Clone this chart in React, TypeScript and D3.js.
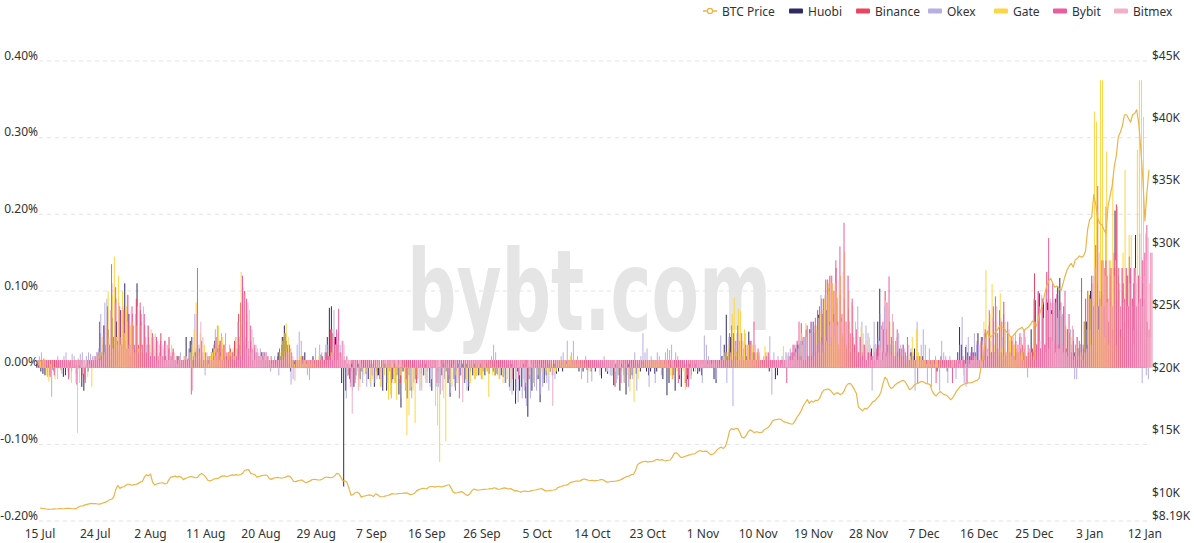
import React from 'react';
import * as d3 from 'd3';

// ---------- DATA ----------
// x-axis tick labels (one every 27 funding periods = 9 days)
const tickLabels = ['15 Jul','24 Jul','2 Aug','11 Aug','20 Aug','29 Aug','7 Sep','16 Sep','26 Sep','5 Oct','14 Oct','23 Oct','1 Nov','10 Nov','19 Nov','28 Nov','7 Dec','16 Dec','25 Dec','3 Jan','12 Jan'];
const tickEvery = 27;
const leftTicks = [400, 300, 200, 100, 0, -100, -200]; // funding rate, 0.001% units
const rightTicks = [45000, 40000, 35000, 30000, 25000, 20000, 15000, 10000, 8190];

// Funding rates per 8h period, in units of 0.001 %
const huobi = [
5,3,-5, -8,-10,2, 3,5,-3, 4,6,5, -3,-12,-10, 5,8,-5, 6,3,-2, 3,-25,-30, 4,-5,8,
5,8,10, 20,45,15, 55,25,50, 10,65,30, 60,20,75, 40,110,25, 70,15,55, 30,110,20, 60,15,40,
30,10,20, 15,5,10, 20,8,15, 15,5,5, 8,10,5, 15,5,10, 10,40,12, 35,10,20, 25,8,10,
5,10,8, 10,15,25, 35,10,30, 20,5,15, 15,20,10, 20,8,25, 30,10,35, 25,5,15, 15,20,10,
10,15,20, 20,10,5, 5,8,10, 10,20,15, 40,55,35, 5,-5,10, 8,10,5, 10,15,20, 8,10,5,
15,5,10, 10,17,5, 20,40,78, 80,20,40, 30,10,-20, -155,-30,-10, -15,5,-25, -10,5,-15, -5,10,-8,
-15,5,-10, -25,-5,-10, -5,-30,5, -30,-5,-20, -15,5,-10, -35,-52,-5, 5,-40,-10, -30,5,-15, -10,5,-8,
-10,5,-5, -20,-30,5, -25,-5,-20, -10,5,-5, -20,-38,5, -15,-5,5, -10,5,-20, 5,-30,-5, -10,5,-10,
-10,5,-5, -10,5,-8, 5,-5,-10, -8,5,-10, -12,-20,5, -25,5,-30, -47,-5,-30, -25,5,-40, -64,-5,-30,
-20,5,-15, -45,5,-20, -10,5,-5, -10,5,-8, -5,5,-5, 5,8,5, 10,5,8, 5,-5,5, -5,5,-3,
5,-5,3, -5,5,5, -14,5,-5, -8,5,-10, -23,5,-10, -30,5,-10, -35,5,-15, -10,5,-8, 5,-5,8,
5,-5,-10, -5,5,-8, -5,8,5, -15,5,-36, -20,5,-10, -30,5,-15, -25,5,-20, -15,5,-10, -5,5,-8,
-5,-10,5, 5,8,10, 10,-15,-20, 5,10,15, 30,69,20, 40,10,25, 20,5,15, 10,45,15, 47,10,20,
5,10,5, 8,5,10, 5,-5,10, 10,-15,-10, 5,10,5, 10,5,10, 15,5,25, 30,10,35, 10,49,15,
50,10,45, 20,69,15, 70,20,75, 104,30,80, 25,91,20, 55,15,45, 10,35,20, 25,10,15, 20,10,30,
15,20,10, 25,10,30, 60,103,20, 50,15,30, 20,15,10, 35,10,20, 15,10,5, 10,20,15, 25,15,10,
10,15,5, 10,5,8, 5,10,-5, 10,15,8, 5,-5,10, 8,10,5, 20,53,30, 10,27,20, 15,27,20,
20,45,10, 40,15,30, 25,10,20, 20,25,15, 20,10,25, 15,20,10, 10,15,20, 15,10,20, 15,10,5,
50,20,88, 30,97,25, 90,30,85, 20,75,30, 90,106,117, 30,80,25, 50,15,30, 20,15,25, 30,15,60,
60,20,100, 30,85,20, 80,25,95, 30,120,25, 90,20,205, 30,100,25, 110,30,120, 145,30,110, 173,30,175,
140,30,60
];

const binance = [
10,10,10, 10,10,10, 10,10,10, 10,10,10, 10,10,10, 10,10,10, 10,10,10, 10,-10,-20, 10,10,10,
10,10,15, 60,20,55, 30,75,20, 110,40,90, 25,70,30, 75,20,60, 15,70,25, 90,30,75, 20,55,15,
40,15,35, 10,35,15, 45,12,35, 10,40,15, 25,10,15, 15,10,10, 10,10,25, 40,15,20, 25,10,15,
10,10,15, 15,20,30, 40,15,35, 25,10,15, 20,25,10, 35,15,70, 85,20,100, 60,15,35, 25,10,15,
15,20,15, 10,15,10, 10,10,10, 15,25,30, 40,45,30, 15,10,10, 10,10,10, 15,10,10, 10,10,10,
10,10,10, 10,15,10, 20,10,50, 45,15,30, 20,15,10, 10,5,-10, 10,10,10, 10,-10,10, 10,10,10,
10,10,10, 10,10,-15, 10,10,5, 10,10,10, 10,-5,10, -20,10,10, 10,10,10, 10,10,-20, 10,10,10,
10,10,10, 10,10,10, 10,-15,10, 10,10,10, 10,10,10, -30,10,10, 10,10,-15, 10,10,10, 10,10,10,
10,10,10, 10,10,10, 10,10,10, 10,10,10, 10,10,10, 10,-15,10, 10,10,10, 10,10,10, -15,10,10,
10,10,10, 10,10,10, 10,10,10, 10,10,10, 10,10,10, 10,10,10, 10,10,10, 10,10,10, 10,10,10,
10,10,10, 10,10,10, 10,10,10, 10,10,10, -25,10,10, 10,10,10, 10,10,10, 10,10,10, 10,10,10,
10,10,10, 10,10,10, 10,10,10, 10,10,10, 10,-15,10, 10,10,10, 10,10,-25, 10,10,10, 10,10,10,
10,10,10, 10,10,10, 10,10,10, 10,15,10, 20,10,45, 55,15,35, 10,35,10, 25,10,30, 35,10,20,
10,10,10, 10,10,10, 10,10,10, 10,10,10, 10,10,10, 10,15,20, 30,10,35, 15,58,10, 40,15,50,
15,60,20, 75,25,90, 30,115,40, 120,35,100, 130,30,95, 40,90,25, 77,20,45, 30,10,20, 15,20,15,
10,15,10, 15,20,25, 15,55,20, 100,20,60, 40,15,20, 20,25,15, 15,10,10, 10,15,10, 10,15,10,
10,10,10, 10,10,10, 10,10,10, 10,10,10, 10,10,10, 10,10,10, 10,10,15, 10,15,10, 10,10,10,
35,10,40, 20,45,15, 60,20,60, 15,45,20, 60,86,20, 45,15,35, 30,10,20, 25,30,10, 15,20,10,
25,123,30, 90,25,80, 30,125,40, 85,25,75, 30,70,25, 70,20,50, 45,15,35, 30,10,20, 117,30,90,
100,50,110, 60,120,50, 100,55,130, 210,60,120, 50,130,213, 120,50,100, 60,120,50, 120,60,100, 50,120,60,
110,30,60
];

const okex = [
15,20,12, 8,-12,-10, -38,-5,10, 15,8,-8, 15,20,-5, 10,18,15, -8,12,18, 20,10,15, 20,18,15,
15,20,25, 70,30,85, 90,40,75, 25,85,40, 80,30,70, 35,95,30, 60,20,55, 80,35,70, 25,40,15,
30,10,25, 20,5,15, 15,30,8, 20,10,10, 10,15,5, 20,10,15, 10,25,20, 40,70,15, 30,10,20,
-10,10,15, 20,10,50, 55,20,45, 30,45,10, 30,10,20, 40,60,15, 55,20,40, 35,10,20, 25,20,15,
25,20,15, 20,10,-5, 10,15,5, -10,10,15, 20,25,15, -22,-15,10, 30,47,35, 15,10,-10, -16,5,10,
26,10,30, 20,5,30, 30,10,50, 75,20,45, 30,10,15, -40,5,-20, -30,10,-10, -15,5,-20, 10,-25,5,
-25,5,-20, -15,10,-25, -30,5,-20, -5,-40,10, -20,5,-15, -40,10,-30, 5,-30,-40, -20,10,-15, -30,5,-10,
-20,5,-25, -30,10,-15, -25,-35,5, -15,10,-10, -33,5,-25, -20,10,-10, 5,-20,-30, -25,5,-10, -15,10,-8,
-15,5,-10, -5,10,15, 30,20,-10, -15,5,-10, -20,5,-30, -35,5,-30, -45,5,-40, -30,-50,5, -40,5,-25,
-30,5,-35, -25,5,-20, -30,5,-10, -15,5,5, 15,20,10, 35,10,20, 35,5,15, 10,-15,10, 15,-20,10,
-18,5,10, 5,-10,10, 15,-5,10, -10,5,5, -20,5,-15, 5,-20,5, -25,5,-15, 20,-30,5, 15,45,20,
25,-25,15, 10,-20,20, 15,-10,5, 20,25,23, 30,5,20, 15,10,5, 10,5,-10, -15,5,5, 10,-5,8,
-20,42,30, 15,10,5, 10,-15,5, 42,15,20, -20,40,10, -50,30,45, 15,35,10, 30,10,15, 35,10,20,
20,15,10, 15,20,10, 41,-35,20, 10,15,5, 15,10,20, 20,25,15, 20,30,10, 35,10,40, 50,15,60,
60,15,50, 20,95,30, 95,30,100, 40,90,35, 85,25,65, 60,20,50, 60,15,40, 50,80,20, 60,15,55,
45,30,-30, 60,20,40, 70,20,80, 50,15,30, 35,10,25, 45,15,30, 20,15,10, 25,20,-30, 60,15,30,
50,30,-20, 25,-25,10, 15,10,-30, 35,20,15, -20,15,10, 10,-15,20, 30,66,-20, 30,40,20, 20,45,30,
30,10,35, 45,15,30, 35,40,10, 40,15,35, 40,50,15, 35,10,20, 45,15,40, 40,10,30, -13,20,15,
90,30,100, 35,90,30, 95,35,90, 30,85,25, 75,25,70, 60,20,45, 50,15,-15, -15,25,20, 30,15,50,
90,50,120, 60,110,50, 100,140,55, 110,60,130, 50,110,60, 110,55,90, 60,120,50, 90,50,110, 60,90,-20,
90,-10,-15
];

const gate = [
8,10,12, -10,-18,5, 8,-15,5, 10,-5,8, 8,10,-12, -20,10,8, -85,-20,5, -8,10,-12, 5,-25,15,
10,15,20, 40,15,55, 100,30,95, 145,40,120, 30,100,45, 80,25,55, 60,20,55, 25,55,30, 55,15,30,
50,15,45, 20,30,10, 25,10,30, 10,30,15, 10,5,15, 10,15,10, 10,20,30, 50,85,20, 45,10,30,
10,5,15, 20,25,10, 55,15,40, 30,10,20, 20,25,15, 40,10,125, 105,25,70, 75,15,40, 20,25,15,
15,20,10, 15,10,5, 10,5,10, 20,35,45, 58,40,25, 10,5,10, 10,15,5, 10,5,10, 5,10,5,
10,15,10, 10,5,10, 15,20,25, 30,10,20, 15,10,5, -10,5,-5, 5,-15,-5, -25,5,-10, -5,10,-20,
-15,5,-10, 5,-25,5, -10,5,-42, -35,5,-20, -42,5,-10, 5,-20,-88, -62,5,-30, -72,-10,5, -25,5,-15,
-20,5,-15, 5,-50,-75, -123,5,-40, -96,5,-20, -25,5,-10, -20,5,-15, 5,-15,5, -20,5,-15, -10,5,-10,
-15,5,-5, -38,5,-10, -10,5,-15, 5,-20,5, -15,5,-20, 5,-15,5, -10,5,-15, -20,5,-10, 5,-20,5,
-10,5,-5, 5,-5,-10, -5,5,-5, -5,5,10, 5,10,5, 10,15,5, 10,5,10, 5,10,5, 5,-5,10,
10,5,8, 5,10,5, 5,-5,10, -10,5,-5, -15,5,-5, -20,5,-10, -31,5,-45, 5,-15,5, 5,10,5,
5,10,5, 10,5,10, 5,10,5, 10,5,-10, -15,5,-5, -10,5,-5, -29,5,-10, -15,5,-5, 5,10,5,
5,10,5, 10,5,10, 5,10,5, 10,15,20, 30,15,70, 91,20,77, 74,15,50, 10,30,10, 30,10,20,
15,10,5, 28,20,15, 10,5,10, 5,10,5, 28,20,15, 10,15,10, 20,10,30, 45,10,58, 15,45,10,
15,55,20, 70,20,90, 35,110,30, 110,40,100, 30,120,45, 151,30,100, 40,80,20, 36,15,53, 45,15,35,
40,10,30, 30,10,35, 50,20,88, 20,60,15, 30,20,15, 10,15,10, 5,10,15, 40,10,50, 20,15,10,
10,5,10, 5,10,5, 10,5,10, 5,10,5, 10,5,10, 5,10,5, 10,-10,5, -20,5,10, 10,15,10,
30,10,60, 127,20,70, 109,30,60, 20,97,25, 60,15,45, 40,10,30, 25,20,15, 20,25,15, 20,15,10,
60,20,80, 25,65,20, 75,25,70, 84,20,65, 25,67,20, 55,15,45, 40,10,30, 25,20,15, 60,20,100,
90,40,334, 321,50,375, 375,40,282, 30,140,247, 120,30,130, 40,150,258, 50,173,173, 30,130,284, 375,375,327,
175,40,110
];

const bybit = [
10,10,10, 10,-12,10, -10,10,10, 10,10,10, 10,-15,10, 10,10,-22, 10,10,10, -15,10,10, 10,10,15,
10,12,15, 45,20,80, 30,135,40, 105,35,80, 30,75,25, 95,30,80, 25,70,20, 85,30,70, 20,55,15,
45,15,40, 10,35,15, 35,10,25, 15,20,10, 15,10,10, 10,10,10, 10,-35,10, 20,130,25, 35,10,20,
10,10,10, 15,20,25, 35,10,30, 20,10,15, 20,10,15, 40,15,120, 30,90,25, 55,10,30, 20,15,10,
15,20,15, 10,15,10, 10,10,10, 10,15,20, 25,30,20, 10,10,10, 10,10,10, 10,10,10, 10,10,10,
10,10,10, 10,10,15, 15,10,40, 50,77,20, 35,10,15, 10,-25,10, -20,10,10, 10,10,10, 10,10,10,
10,10,-10, 10,10,10, 10,10,10, -20,10,10, 10,10,10, 10,-15,10, 10,10,10, 10,10,10, 10,10,10,
10,10,10, 10,-20,10, 10,10,10, 10,-15,10, 10,10,10, -40,10,10, 10,10,10, 10,10,10, 10,10,10,
10,10,10, 10,10,10, 10,10,10, 10,10,10, 10,10,10, 10,10,-15, 10,10,10, 10,10,10, 10,10,10,
10,10,10, 10,10,10, 10,10,10, 10,10,10, 10,10,10, 10,10,10, 10,10,10, 10,10,10, 10,10,10,
10,10,10, 10,10,10, 10,10,10, 10,10,10, 10,-20,10, 10,10,10, 10,10,10, 10,10,10, 10,10,10,
10,10,10, 10,10,10, 10,10,10, 10,10,10, 10,10,-20, 10,10,10, 10,-25,10, 10,10,10, 10,10,10,
10,10,10, 10,10,10, 10,10,10, 10,10,15, 25,10,45, 15,55,10, 45,10,30, 10,35,10, 60,10,25,
10,10,10, 15,20,10, 10,10,10, 10,10,10, 10,-20,10, 15,20,30, 10,60,15, 40,10,55, 15,60,20,
65,30,80, 40,90,35, 115,60,120, 70,140,60, 158,70,189, 60,120,45, 90,30,50, 15,40,15, 30,10,20,
20,15,10, 20,30,10, 60,20,85, 119,20,60, 15,50,10, 25,30,20, 40,10,20, 15,10,-20, 15,10,10,
10,10,10, 10,10,-20, 10,10,10, 10,10,10, 10,-20,10, 10,10,10, 10,10,-20, 10,15,20, 15,10,10,
34,10,50, 15,75,20, 80,93,25, 75,20,70, 15,60,20, 40,15,35, 30,45,10, 50,15,30, 20,15,10,
30,100,25, 90,30,90, 169,40,110, 35,96,30, 85,30,100, 25,70,20, 50,15,40, 35,10,25, 85,30,95,
120,80,160, 237,90,140, 80,140,90, 130,80,150, 90,130,80, 130,90,130, 80,130,90, 130,80,120, 90,140,150,
186,50,150
];

const bitmex = [
10,10,10, 10,10,10, 10,-15,10, 10,10,10, 10,10,10, 10,-20,10, 10,10,10, 10,10,10, 10,15,20,
10,10,15, 20,55,30, 75,25,85, 30,85,40, 80,25,60, 30,75,25, 60,20,55, 25,80,30, 55,20,40,
40,10,35, 15,30,10, 30,10,20, 10,20,15, 10,10,10, 10,15,10, 10,-30,15, 70,20,60, 40,10,20,
10,10,10, 15,20,10, 35,10,30, 20,10,15, 15,20,10, 40,10,95, 25,85,20, 50,10,30, 20,15,10,
15,20,15, 10,10,10, 10,10,10, 10,15,20, 20,25,15, -17,10,10, 10,10,10, 10,10,10, 10,10,10,
10,10,10, 10,10,10, 15,10,30, 35,15,35, 30,10,10, 10,-60,10, 10,-30,10, 10,10,10, 10,10,-10,
10,10,10, -15,10,10, 10,10,10, 10,10,10, 10,-10,10, 10,10,10, -25,10,10, 10,10,-30, 10,10,10,
10,10,10, -20,10,10, -30,10,10, 10,10,10, 10,10,-15, 10,-45,10, 10,10,10, 10,10,10, 10,10,10,
10,10,10, 10,10,10, 10,10,10, 10,10,10, 10,10,10, 10,10,10, 10,10,-25, 10,10,10, 10,10,10,
10,10,10, 10,10,10, -50,10,10, 10,10,10, 10,10,10, 10,10,10, 10,10,10, 10,10,10, 10,10,10,
10,10,10, 10,10,10, 10,10,10, 10,10,10, 10,10,10, 10,-15,10, 10,10,10, 10,10,10, 10,10,10,
10,10,10, 10,10,10, 10,10,10, 10,10,10, 10,10,10, 10,10,-15, 10,10,10, 10,10,10, 10,10,10,
10,10,10, 10,10,10, 10,10,10, 10,10,10, 20,10,35, 10,45,15, 35,10,25, 10,30,10, 30,10,20,
10,10,10, 10,15,10, 10,10,10, 10,10,10, 10,10,10, 10,15,20, 25,10,30, 10,40,15, 45,10,55,
30,65,35, 75,40,95, 55,110,60, 110,55,115, 60,125,50, 120,50,85, 35,60,25, 40,10,30, 25,10,15,
15,10,10, 15,25,10, 50,15,75, 20,70,15, 40,10,30, 20,25,10, 30,10,15, 10,15,10, 10,10,10,
10,10,10, 10,10,10, 10,10,10, 10,10,10, 10,10,10, 10,10,10, 10,-25,10, 10,10,15, 10,10,10,
30,10,45, 55,15,65, 20,80,25, 65,15,60, 20,50,15, 40,10,30, 30,40,10, 40,15,25, 20,15,10,
70,25,95, 30,85,25, 80,35,90, 85,25,75, 30,85,20, 70,20,55, 15,40,15, 30,10,20, 25,90,30,
110,130,80, 150,80,130, 120,85,140, 80,120,140, 210,80,130, 85,130,80, 110,80,130, 120,85,120, 80,120,140,
170,40,150
];

// BTC price (USD) per 8h period
const btcPrice = [
9230,9200,9190, 9150,9120,9130, 9140,9160,9150, 9170,9180,9170, 9180,9200,9210, 9190,9170,9160, 9200,9330,9390, 9400,9480,9520, 9560,9600,9580,
9590,9550,9540, 9580,9650,9700, 9780,9900,9930, 10100,10700,11050, 10800,10900,10930, 11050,11150,11100, 11050,11100,11110, 11200,11300,11350, 11700,11900,11800,
11950,11300,11070, 11150,11200,11230, 11250,11150,11190, 11500,11700,11740, 11780,11700,11760, 11700,11500,11600, 11650,11720,11750, 11700,11650,11680, 11900,12000,11880,
11700,11450,11400, 11450,11550,11580, 11600,11700,11780, 11800,11750,11770, 11850,11880,11860, 11900,11850,11910, 12000,12250,12280, 12300,12000,11950, 11900,11700,11750,
11800,11850,11860, 11850,11600,11520, 11600,11650,11680, 11650,11620,11650, 11700,11800,11770, 11600,11350,11340, 11400,11450,11470, 11350,11250,11320, 11400,11500,11530,
11500,11470,11480, 11550,11650,11710, 11680,11650,11680, 11800,12000,11970, 11700,11400,11410, 11300,10800,10250, 10300,10450,10510, 10400,10100,10170, 10200,10250,10280,
10250,10150,10370, 10300,10150,10130, 10150,10200,10230, 10300,10380,10350, 10350,10380,10390, 10400,10420,10440, 10380,10300,10330, 10400,10600,10680, 10750,10800,10790,
10750,10900,10950, 10950,10900,10950, 10950,10920,10940, 11000,11050,11090, 10800,10500,10420, 10450,10500,10540, 10450,10300,10240, 10350,10600,10740, 10700,10650,10690,
10700,10720,10730, 10750,10780,10770, 10850,10800,10710, 10750,10800,10840, 10800,10750,10780, 10700,10600,10620, 10550,10500,10570, 10580,10560,10550, 10600,10650,10670,
10700,10750,10790, 10700,10600,10600, 10620,10650,10670, 10700,10850,10920, 10950,11050,11060, 11100,11250,11300, 11350,11380,11380, 11400,11500,11550, 11500,11450,11430,
11450,11400,11430, 11450,11500,11510, 11400,11300,11320, 11350,11360,11370, 11400,11450,11500, 11600,11700,11750, 11800,11900,11910, 12200,12700,12820, 12900,12950,12970,
12900,12950,12930, 13000,13100,13120, 13050,13100,13030, 13000,13050,13070, 13300,13600,13650, 13500,13300,13280, 13350,13400,13460, 13500,13550,13560, 13700,13800,13800,
13750,13780,13760, 13600,13500,13550, 13700,13900,14030, 14100,14000,14150, 14700,15400,15590, 15500,15600,15580, 15300,14900,14830, 15000,15300,15480, 15400,15250,15330,
15300,15250,15300, 15500,15600,15700, 15900,16200,16290, 16300,16350,16330, 16200,16100,16070, 16000,15950,15960, 16200,16500,16720, 17000,17400,17650, 17900,17600,17800,
17700,17850,17820, 18000,18400,18650, 18700,18750,18700, 18500,18300,18420, 18450,18300,18370, 18600,19000,19160, 19200,19000,18720, 18400,17300,17150, 17000,17200,17140,
17300,17500,17720, 17800,18000,18180, 18500,19200,19700, 19500,19000,18800, 18900,19100,19220, 19300,19400,19440, 19300,19000,18700, 18800,19000,19150, 19200,19300,19360,
19300,19200,19170, 19100,18600,18320, 18200,18400,18550, 18400,18300,18250, 18100,17900,18030, 18300,18600,18800, 19000,19100,19170, 19200,19250,19270, 19300,19400,19440,
19600,20600,21500, 22500,23400,22900, 23000,23100,23300, 23500,23800,23700, 23600,23400,23200, 23000,22900,23100, 23300,23500,23600, 23700,23400,23600, 23700,23900,24200,
24000,23800,24400, 25000,25500,26300, 27000,27400,27600, 27200,26900,27000, 26800,26600,27200, 27800,28300,28600, 28800,28500,29100, 29200,29400,29300, 29400,29800,31500,
32300,32500,34300, 33500,32400,32000, 31900,31500,31200, 33400,34200,35000, 36500,37400,38900, 39300,39800,40700, 40700,40400,40100, 40700,40800,41100, 40000,38000,35600,
32200,34500,36300
];

// ---------- STYLE / LAYOUT ----------
const W = 1194;
const H = 543;
const PLOT = { left: 39, right: 1150, top: 61, bottom: 521 };
const FONT = "'Noto Sans', 'DejaVu Sans', sans-serif";
const TEXT = '#333';
const PRICE_COLOR = '#ebb54a';

const seriesDefs = [
  { name: 'Huobi', color: '#2e2a63', data: huobi },
  { name: 'Binance', color: '#ea4560', data: binance },
  { name: 'Okex', color: '#b7aee2', data: okex },
  { name: 'Gate', color: '#fbd646', data: gate },
  { name: 'Bybit', color: '#ec5c9f', data: bybit },
  { name: 'Bitmex', color: '#f3afc8', data: bitmex },
];

const legendLayout = [
  { name: 'BTC Price', icon: 703, text: 722, color: PRICE_COLOR, line: true },
  { name: 'Huobi', icon: 789, text: 808, color: '#2e2a63' },
  { name: 'Binance', icon: 856, text: 875, color: '#ea4560' },
  { name: 'Okex', icon: 928, text: 947, color: '#b7aee2' },
  { name: 'Gate', icon: 994, text: 1013, color: '#fbd646' },
  { name: 'Bybit', icon: 1053, text: 1072, color: '#ec5c9f' },
  { name: 'Bitmex', icon: 1114, text: 1133, color: '#f3afc8' },
];

export default function App() {
  const n = btcPrice.length;
  const x = d3.scaleBand<number>().domain(d3.range(n)).range([PLOT.left, PLOT.right]).paddingInner(0).paddingOuter(0);
  const bw = x.bandwidth();
  const cx = (i: number) => (x(i) as number) + bw / 2;
  const yL = d3.scaleLinear().domain([-200, 400]).range([PLOT.bottom, PLOT.top]);
  const yR = d3.scaleLinear().domain([8190, 45000]).range([PLOT.bottom, PLOT.top]);

  // grouped bar layout: 20% category gap, 30% bar gap, min bar width 1px
  const k = seriesDefs.length;
  const auto = (bw * 0.8) / (k + (k - 1) * 0.3);
  const barW = Math.max(auto, 1);
  const groupW = k * barW + (k - 1) * 0.3 * barW;
  const y0 = yL(0);

  const line = d3.line<number>().x((_, i) => cx(i)).y((v) => yR(v));

  const fmtPct = (v: number) => (v / 1000).toFixed(2) + '%';
  const fmtUsd = (v: number) => '$' + (v % 1000 === 0 ? (v / 1000).toFixed(0) : (v / 1000).toFixed(2)) + 'K';

  return (
    <svg width={W} height={H} style={{ position: 'absolute', left: 0, top: 0, background: '#fff' }} fontFamily={FONT}>
      <rect x={0} y={0} width={W} height={H} fill="#fff" />
      {/* watermark */}
      <text x={589} y={330} fontSize={113} fontWeight="bold" fill="#e5e5e5" textAnchor="middle"
        textLength={364} lengthAdjust="spacingAndGlyphs"
        fontFamily="'Liberation Sans Narrow', 'DejaVu Sans Condensed', 'DejaVu Sans', sans-serif">bybt.com</text>

      {/* grid lines */}
      {leftTicks.map((t) => (
        <line key={'g' + t} x1={PLOT.left} x2={PLOT.right} y1={yL(t)} y2={yL(t)} stroke="#e3e3e3" strokeDasharray="4,4" strokeWidth={1} />
      ))}

      {/* bars */}
      {seriesDefs.map((s, si) => (
        <g key={s.name} fill={s.color}>
          {s.data.map((v, i) => {
            const yv = yL(v);
            return (
              <rect key={i} x={cx(i) - groupW / 2 + si * barW * 1.3} width={barW}
                y={Math.min(y0, yv)} height={Math.abs(yv - y0)} />
            );
          })}
        </g>
      ))}

      {/* BTC price line */}
      <path d={line(btcPrice) || ''} fill="none" stroke={PRICE_COLOR} strokeWidth={1.2} strokeLinejoin="round" />

      {/* left axis labels */}
      {leftTicks.map((t) => (
        <text key={'l' + t} x={38} y={yL(t) - 6} textAnchor="end" dominantBaseline="central" fontSize={12} fill={TEXT}>{fmtPct(t)}</text>
      ))}
      {/* right axis labels */}
      {rightTicks.map((t) => (
        <text key={'r' + t} x={1152} y={yR(t) - 6} textAnchor="start" dominantBaseline="central" fontSize={12} fill={TEXT}>{fmtUsd(t)}</text>
      ))}
      {/* x axis labels */}
      {tickLabels.map((lab, j) => (
        <text key={'x' + j} x={cx(j * tickEvery)} y={533} textAnchor="middle" dominantBaseline="central" fontSize={12} fill={TEXT}>{lab}</text>
      ))}

      {/* legend */}
      {legendLayout.map((l) => (
        <g key={'lg' + l.name}>
          {l.line ? (
            <g>
              <line x1={l.icon} x2={l.icon + 14} y1={11} y2={11} stroke={l.color} strokeWidth={1.5} />
              <circle cx={l.icon + 7} cy={11} r={2.6} fill="#fff" stroke={l.color} strokeWidth={1.3} />
            </g>
          ) : (
            <rect x={l.icon} y={8.5} width={14} height={5} rx={1} fill={l.color} />
          )}
          <text x={l.text} y={11} dominantBaseline="central" fontSize={12} fill={TEXT}>{l.name}</text>
        </g>
      ))}
    </svg>
  );
}
